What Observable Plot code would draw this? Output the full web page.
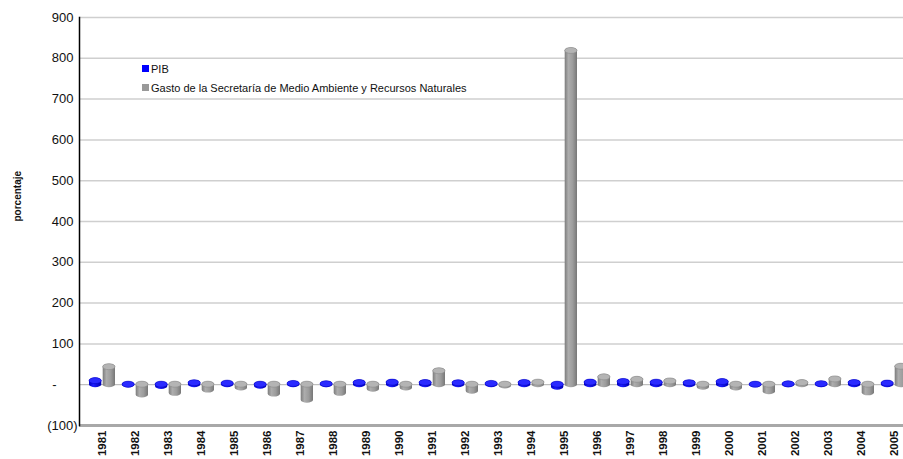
<!DOCTYPE html>
<html><head><meta charset="utf-8">
<script src="https://cdn.jsdelivr.net/npm/d3@7"></script>
<script src="https://cdn.jsdelivr.net/npm/@observablehq/plot@0.6"></script>
<style>
html,body{margin:0;padding:0;background:#fff;overflow:hidden;}
#wrap{position:relative;width:903px;height:459px;font-family:"Liberation Sans",Arial,sans-serif;}
#wrap svg{overflow:hidden;}
#legend{position:absolute;left:142px;top:59px;font-size:11px;color:#111;font-family:"Liberation Sans",Arial,sans-serif;}
.item{display:flex;align-items:center;height:19px;}
.sw{width:7px;height:7px;margin-right:2px;}
</style></head><body><div id="wrap"><div id="legend"></div></div>
<script>
const years = [1981,1982,1983,1984,1985,1986,1987,1988,1989,1990,1991,1992,1993,1994,1995,1996,1997,1998,1999,2000,2001,2002,2003,2004,2005];
const pib   = [8.8,-0.6,-4.2,3.6,2.6,-3.8,1.9,1.2,4.2,5.1,4.2,3.6,2.0,4.4,-6.2,5.2,6.8,5.0,3.8,6.6,-0.2,0.8,1.4,4.2,2.8];
const gasto = [43,-25,-21,-13,-8,-23,-38,-21,-11,-8,33,-16,-3,5,818,18,12,8,-6,-8,-17,4,13,-20,44];
const seriesNames = ["PIB","Gasto de la Secretaría de Medio Ambiente y Recursos Naturales"];
const seriesColors = ["#0000ff","#999999"];
const yTicks = [-100,0,100,200,300,400,500,600,700,800,900];
const yTickLabels = ["(100)","-","100","200","300","400","500","600","700","800","900"];
const yLabel = ["porcentaje"];

const data = years.map((y,i)=>({year:String(y), pib:pib[i], gasto:gasto[i]}));
const half = 13.7;
const cyl = {rx: 6.5, ry: 3, insetTop: -3, insetBottom: -3};
const yLab = d => yTickLabels[yTicks.indexOf(d)];

const chart = Plot.plot({
  width: 903, height: 459,
  marginLeft: 79, marginRight: 0, marginTop: 17, marginBottom: 34,
  style: {fontFamily: '"Liberation Sans", Arial, sans-serif', color: "#111", background: "#fff"},
  x: {type: "band", domain: data.map(d=>d.year), range: [81, 915], paddingInner: 0.2, paddingOuter: 0.1},
  y: {domain: [-100, 900]},
  marks: [
    Plot.gridY({ticks: yTicks.filter(t=>t>0), stroke: "#cfcfcf", strokeOpacity: 1, strokeWidth: 1.5}),
    Plot.ruleY([0], {stroke: "#b0b0b0", strokeWidth: 1}),
    Plot.ruleY([-100], {stroke: "#a8a8a8", strokeWidth: 3}),
    Plot.rectY(data, {x: "year", y1: 0, y2: "pib", fill: "url(#gBlue)", insetRight: half, ...cyl}),
    Plot.rectY(data, {x: "year", y1: d=>Math.max(d.pib,0), y2: d=>Math.max(d.pib,0), fill: "#2a2aff", stroke: "#0000c0", strokeWidth: 0.5, insetRight: half, ...cyl}),
    Plot.rectY(data, {x: "year", y1: 0, y2: "gasto", fill: "url(#gGray)", insetLeft: half, ...cyl}),
    Plot.rectY(data, {x: "year", y1: d=>Math.max(d.gasto,0), y2: d=>Math.max(d.gasto,0), fill: "#b4b4b4", stroke: "#8a8a8a", strokeWidth: 0.6, insetLeft: half, ...cyl}),
    Plot.frame({anchor: "left", stroke: "#000", strokeWidth: 1.5}),
    Plot.axisY({ticks: yTicks.filter(t=>t>0), tickFormat: yLab, tickSize: 0, tickPadding: 6, fontSize: 13, label: null}),
    Plot.axisY({ticks: yTicks.filter(t=>t<0), tickFormat: yLab, tickSize: 0, tickPadding: 2, fontSize: 13, label: null}),
    Plot.axisY({ticks: yTicks.filter(t=>t===0), tickFormat: yLab, tickSize: 0, tickPadding: 23, fontSize: 13, label: null}),
    Plot.axisX({tickRotate: -90, tickSize: 0, tickPadding: 5, fontSize: 11.5, fontWeight: "bold", label: null}),
    Plot.text(yLabel, {text: d=>d, frameAnchor: "left", rotate: -90, dx: -62, fontSize: 10, fontWeight: "bold"})
  ]
});

d3.select(chart).insert("defs", ":first-child").html(`
  <linearGradient id="gGray" x1="0" x2="1" y1="0" y2="0">
    <stop offset="0%" stop-color="#7c7c7c"/>
    <stop offset="30%" stop-color="#adadad"/>
    <stop offset="65%" stop-color="#9c9c9c"/>
    <stop offset="100%" stop-color="#777"/>
  </linearGradient>
  <linearGradient id="gBlue" x1="0" x2="1" y1="0" y2="0">
    <stop offset="0%" stop-color="#0000c0"/>
    <stop offset="35%" stop-color="#1e1eff"/>
    <stop offset="100%" stop-color="#0000b0"/>
  </linearGradient>`);

document.getElementById("wrap").prepend(chart);

const legend = document.getElementById("legend");
seriesNames.forEach((n,i)=>{
  const it = document.createElement("div"); it.className = "item";
  const sw = document.createElement("span"); sw.className = "sw"; sw.style.background = seriesColors[i];
  const tx = document.createElement("span"); tx.textContent = n;
  it.append(sw, tx); legend.append(it);
});
</script></body></html>
